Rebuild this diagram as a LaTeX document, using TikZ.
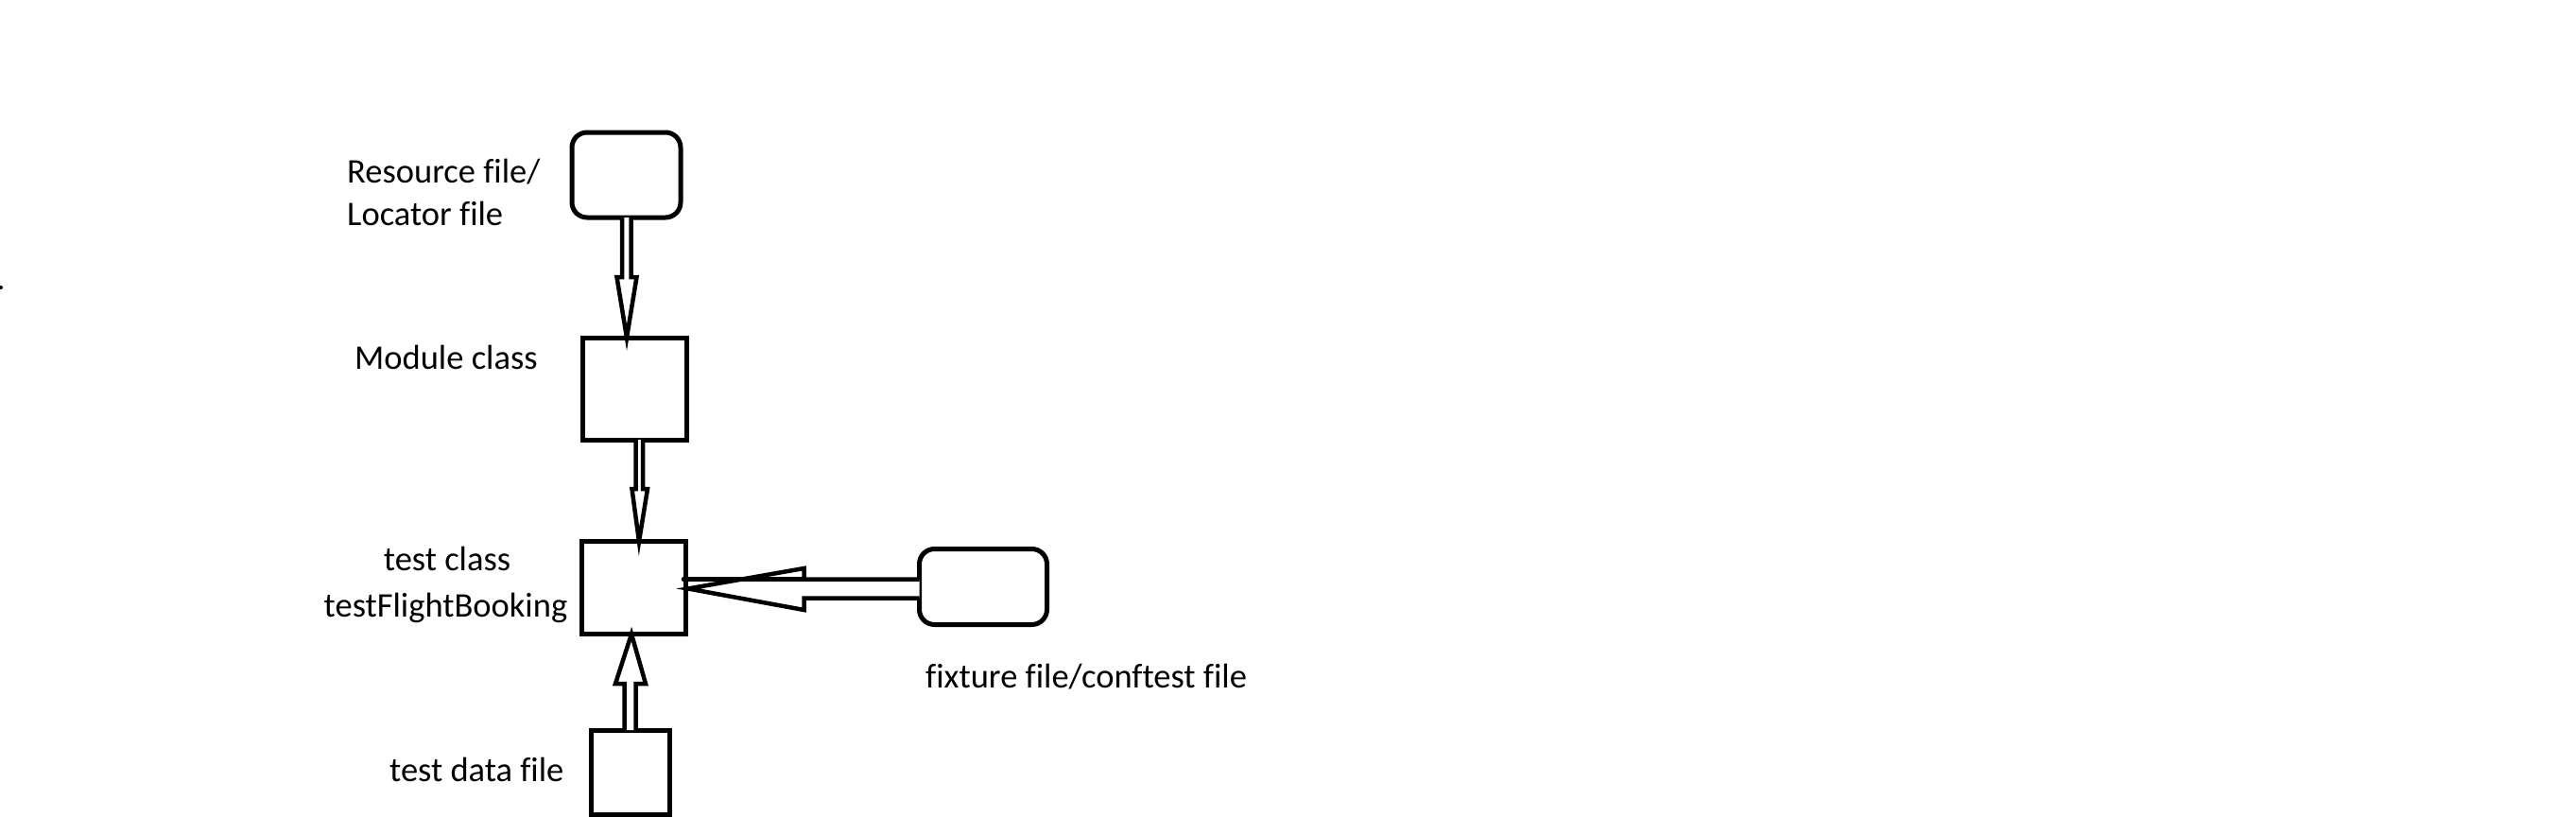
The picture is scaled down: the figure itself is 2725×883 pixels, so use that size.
\documentclass[tikz,border=0pt]{standalone}
\usepackage{fontspec}
\setmainfont[Ligatures=NoCommon]{Carlito}
\usetikzlibrary{calc}
\tikzset{
  box/.style={draw, line width=5pt, inner sep=0pt, outer sep=0pt},
  rbox/.style={box, rounded corners=16pt},
  blockarrow/.style={draw, line width=4.5pt, fill=white, line join=miter},
  lbl/.style={inner sep=0pt, font=\fontsize{36.5}{44}\selectfont},
}
\begin{document}
\begin{tikzpicture}[x=1pt,y=-1pt]
\useasboundingbox (0,0) rectangle (2725,883);
% nodes
\node[rbox, minimum width=115pt, minimum height=90pt] (res) at (662.5,185) {};
\node[box, minimum width=110pt, minimum height=108pt] (mod) at (671,411) {};
\node[box, minimum width=110pt, minimum height=98pt] (tcl) at (670,621.5) {};
\node[box, minimum width=83pt, minimum height=89pt] (tdf) at (666.5,816.5) {};
\node[rbox, minimum width=135pt, minimum height=80pt] (fix) at (1040,620.5) {};
% labels
\node[lbl, anchor=base west] (l1) at (367,193) {Resource file/};
\node[lbl, anchor=base west] (l2) at (367,238) {Locator file};
\node[lbl, anchor=base west] (l3) at (375,390) {Module class};
\node[lbl, anchor=base] (l4) at (473,603) {test class};
\node[lbl, anchor=base] (l5) at (471.5,652) {testFlightBooking};
\node[lbl, anchor=base west] (l6) at (412,826) {test data file};
\node[lbl, anchor=base west] (l7) at (979,727) {fixture file/conftest file};
% stray dot
\fill (1,304) circle (2pt);
% arrow res -> mod
\draw[blockarrow] ($(res.south)+(-4.5,0)$) -- ($(res.south)+(-4.5,63)$) -- ($(res.south)+(-10,63)$)
  -- ($(mod.north)+(-8,0)$) -- ($(res.south)+(11,63)$) -- ($(res.south)+(5,63)$) -- ($(res.south)+(5,0)$);
% arrow mod -> tcl
\draw[blockarrow] ($(mod.south)+(1.5,0)$) -- ($(mod.south)+(1.5,52)$) -- ($(mod.south)+(-2.5,52)$)
  -- ($(tcl.north)+(6,0)$) -- ($(mod.south)+(14,52)$) -- ($(mod.south)+(9,52)$) -- ($(mod.south)+(9,0)$);
% arrow tdf -> tcl
\draw[blockarrow] ($(tdf.north)+(-6,0)$) -- ($(tdf.north)+(-6,-49)$) -- ($(tdf.north)+(-15.5,-49)$)
  -- ($(tcl.south)+(-2,0)$) -- ($(tdf.north)+(16.5,-49)$) -- ($(tdf.north)+(6,-49)$) -- ($(tdf.north)+(6,0)$);
% arrow fix -> tcl
\draw[blockarrow] ($(fix.west)+(0,-8)$) -- ($(fix.west)+(-122,-8)$) -- ($(fix.west)+(-122,-19.5)$)
  -- ($(tcl.east)+(3,1)$) -- ($(fix.west)+(-122,24.5)$) -- ($(fix.west)+(-122,12)$) -- ($(fix.west)+(0,12)$);
\draw[line width=4.5pt, line cap=round] ($(fix.west)+(-122,-8)$) -- ($(tcl.east)+(-2,-9)$);
\end{tikzpicture}
\end{document}
